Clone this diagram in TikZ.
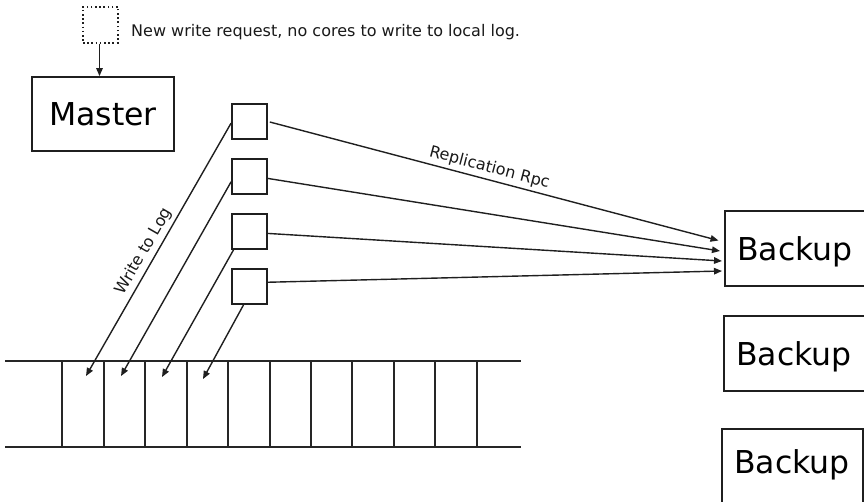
\documentclass[tikz,border=0pt]{standalone}
\usepackage{fontspec}
\setmainfont{DejaVu Sans}
\usetikzlibrary{arrows.meta,calc}

\tikzset{
  ink/.style={draw=black!88},
  boxstyle/.style={ink, line width=1.8pt, rectangle, inner sep=0pt},
  corebox/.style={boxstyle, minimum width=35pt, minimum height=35pt},
  reqbox/.style={draw=black!88, line width=1.8pt, dash pattern=on 1.6pt off 2.6pt,
                 rectangle, minimum width=35pt, minimum height=36pt, inner sep=0pt},
  conn/.style={ink, line width=1.4pt, -{Triangle[length=8pt,width=6.5pt]}},
  bigtext/.style={font=\fontsize{31.5}{36}\selectfont, inner sep=0pt},
  smalltext/.style={font=\fontsize{16}{19}\selectfont, text=black!90},
  logline/.style={draw=black!85, line width=2pt},
}

\begin{document}
\begin{tikzpicture}[x=1pt, y=-1pt]
\useasboundingbox (0,0) rectangle (864,502);
\clip (0,0) rectangle (864,502);

% incoming request and the master
\node[reqbox] (req) at (100.5,24.7) {};
\node[smalltext, anchor=base west, inner sep=0pt] (reqtext) at (131,36.7)
  {New write request, no cores to write to local log.};
\node[boxstyle, minimum width=142pt, minimum height=74pt, bigtext] (master) at (103,114) {Master};
\coordinate (reqbot) at ($(req.south)+(-1,0)$);
\draw[conn] (reqbot) -- (reqbot |- master.north);

% cores handling the write
\node[corebox] (sq1) at (249.5,121.5) {};
\node[corebox] (sq2) at (249.5,176.5) {};
\node[corebox] (sq3) at (249.5,231.5) {};
\node[corebox] (sq4) at (249.5,286.5) {};

% backups
\node[boxstyle, anchor=north west, minimum width=190pt, minimum height=75pt] (bk1) at (724,210) {};
\node[boxstyle, anchor=north west, minimum width=190pt, minimum height=75pt] (bk2) at (723,315) {};
\node[boxstyle, anchor=north west, minimum width=141pt, minimum height=100pt] (bk3) at (721,428) {};
\node[bigtext, anchor=base west] (bk1t) at (737,261) {Backup};
\node[bigtext, anchor=base west] (bk2t) at (736,365) {Backup};
\node[bigtext, anchor=base west] (bk3t) at (734,473) {Backup};

% the local log
\draw[logline] (5,361) coordinate (logtl) -- (521,361) coordinate (logtr);
\draw[logline] (5,447) coordinate (logbl) -- (521,447) coordinate (logbr);
\foreach \x in {62,104,145,187,228,270,311,352,394,435,477} {
  \draw[logline] (\x,361) -- (\x,447);
}

% slots written in the log
\coordinate (w1) at (86,376);
\coordinate (w2) at (121,376);
\coordinate (w3) at (162,377);
\coordinate (w4) at (203,379);

% replication targets on the first backup
\coordinate (r1) at (718.5,240.5);
\coordinate (r2) at (720,251);
\coordinate (r3) at (722,261);
\coordinate (r4) at (722,271);

% write to log
\draw[conn] (sq1.185) -- node[smalltext, sloped, above, pos=0.53] {Write to Log} (w1);
\draw[conn] (sq2.196) -- (w2);
\draw[conn] (sq3.229) -- (w3);
\draw[conn] (sq4.252) -- (w4);

% replication rpcs
\draw[conn, shorten <=2pt] (sq1.east) -- node[smalltext, sloped, above, pos=0.485] {Replication Rpc} (r1);
\draw[conn] (sq2.-6) -- (r2);
\draw[conn] (sq3.-6) -- (r3);
\draw[conn] (sq4.13) -- (r4);
\end{tikzpicture}
\end{document}
